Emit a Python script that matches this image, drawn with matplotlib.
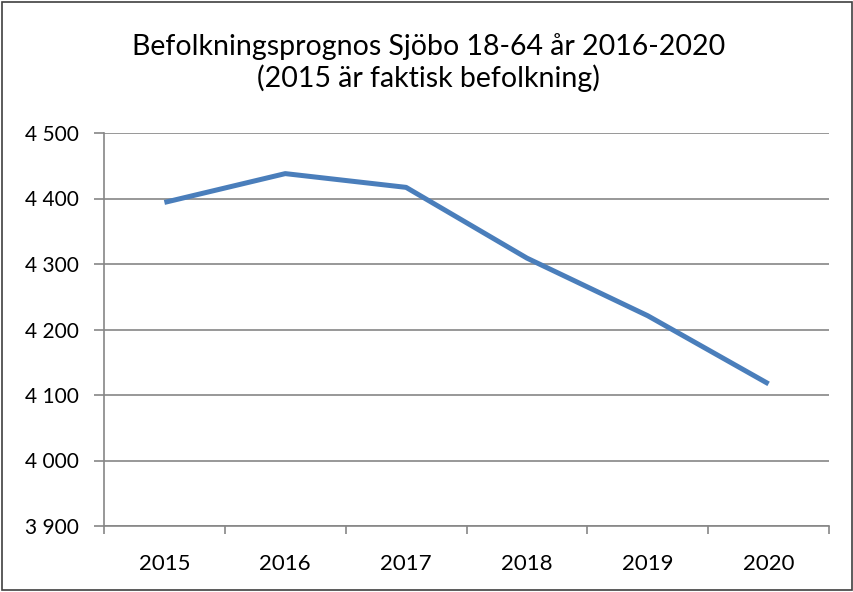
import matplotlib.pyplot as plt
from matplotlib.ticker import FuncFormatter

plt.rcParams['font.family'] = ['Lato', 'DejaVu Sans']

# data
years = ["2015", "2016", "2017", "2018", "2019", "2020"]
population = [4394, 4438, 4417, 4309, 4221, 4117]
yticks = [3900, 4000, 4100, 4200, 4300, 4400, 4500]

fig = plt.figure(figsize=(8.54, 5.92), dpi=100)
ax = fig.add_axes([104 / 854, 66 / 592, 725 / 854, 393 / 592])

x = range(len(years))
ax.plot(x, population, color="#4a7ebb", linewidth=3.6, solid_capstyle="butt")

ax.set_xlim(-0.5, len(years) - 0.5)
ax.set_ylim(3900, 4500)
ax.set_yticks(yticks)
ax.yaxis.set_major_formatter(FuncFormatter(lambda v, p: f"{int(v):,}".replace(",", " ")))
ax.set_xticks(x)
ax.set_xticklabels(years)
ax.set_xticks([i - 0.5 for i in range(len(years) + 1)], minor=True)

ax.grid(axis="y", color="#868686", linewidth=1.2)
ax.set_axisbelow(True)
for side in ["top", "right"]:
    ax.spines[side].set_visible(False)
for side in ["left", "bottom"]:
    ax.spines[side].set_color("#868686")
    ax.spines[side].set_linewidth(1.2)

ax.tick_params(axis="y", length=7, color="#868686", width=1.2, labelsize=15, pad=11)
ax.tick_params(axis="x", which="major", length=0, labelsize=16, pad=20)
ax.tick_params(axis="x", which="minor", length=6, color="#868686", width=1.2)

fig.text(0.502, 0.894, "Befolkningsprognos Sjöbo 18-64 år 2016-2020\n(2015 är faktisk befolkning)",
         ha="center", va="center", multialignment="center", fontsize=20.5, linespacing=1.2)

fig.patches.append(plt.Rectangle((0.002, 0.003), 0.996, 0.994, transform=fig.transFigure,
                                 fill=False, edgecolor="#404040", linewidth=1.2))

fig.savefig("out.png", dpi=100)
